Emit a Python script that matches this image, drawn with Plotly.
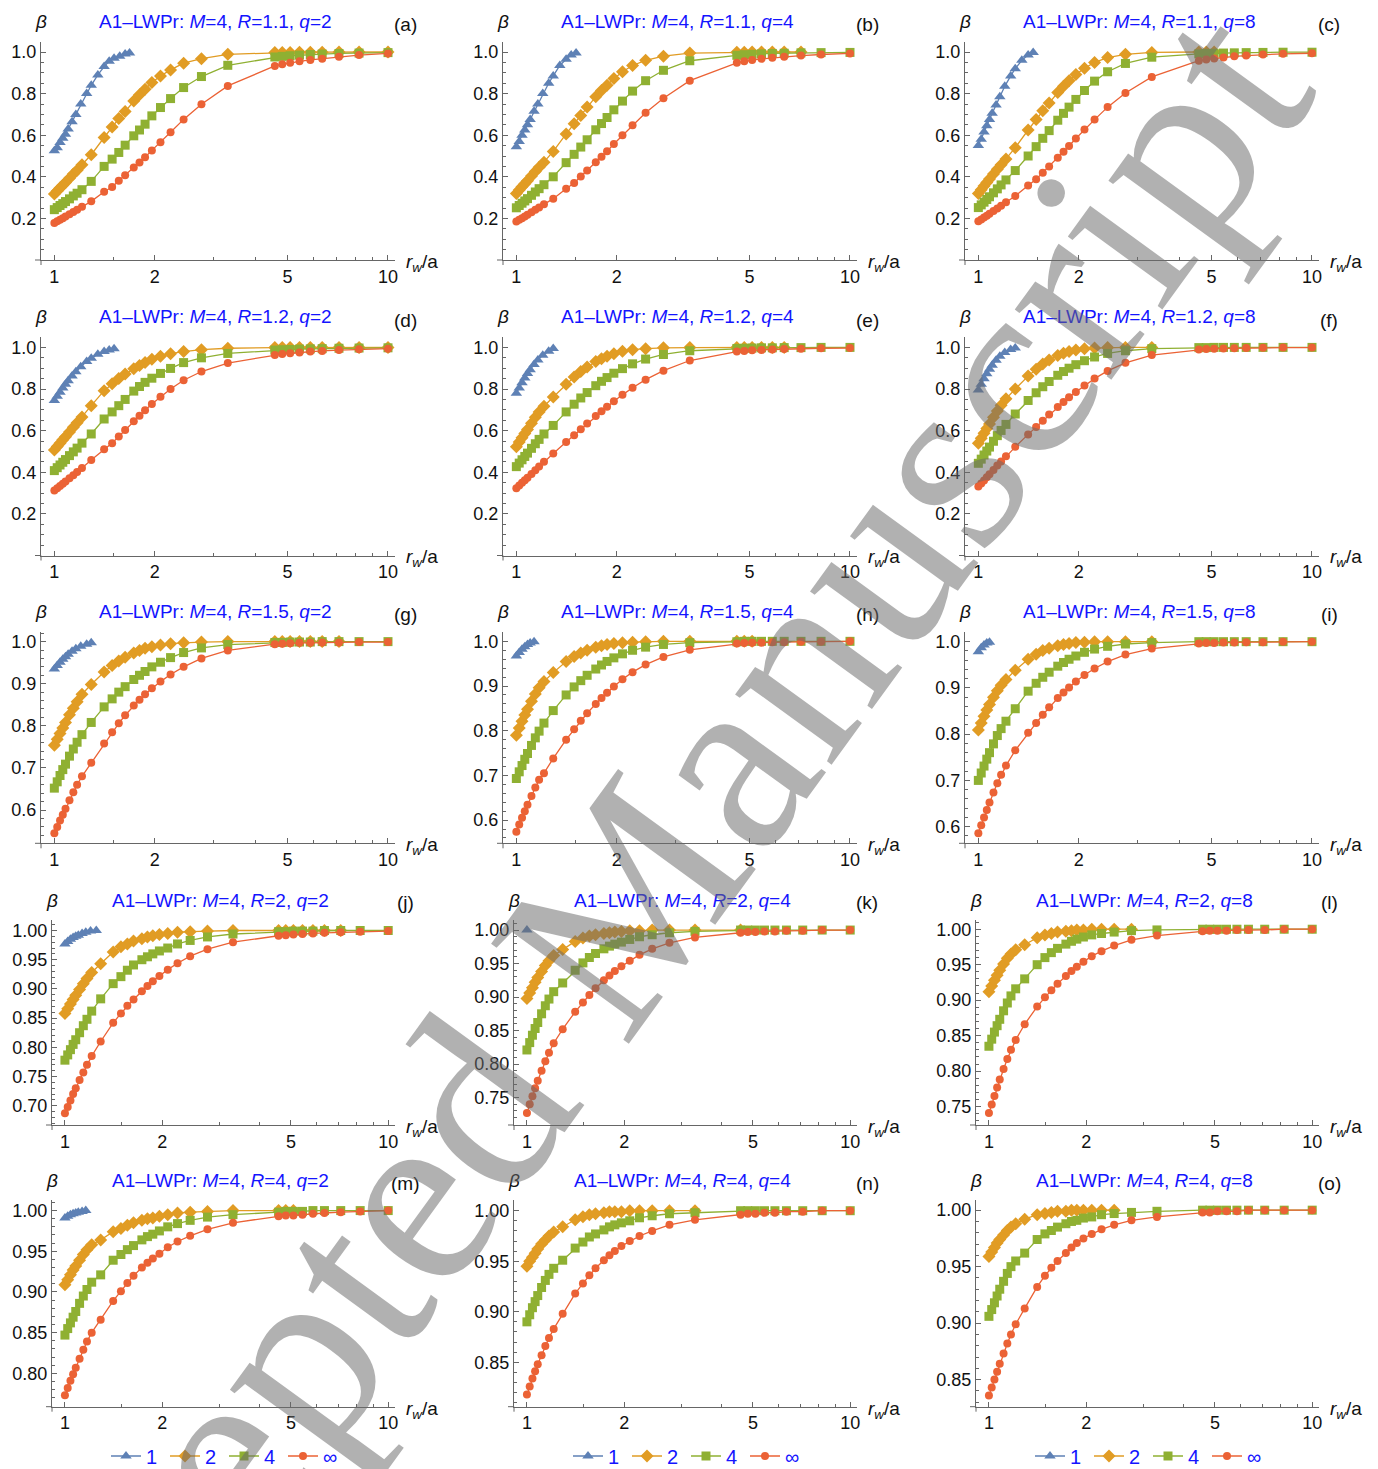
import plotly.graph_objects as go

# ---------------- data ----------------
X_GRID = [1.00, 1.02, 1.04, 1.06, 1.08, 1.11, 1.14, 1.17, 1.21, 1.29, 1.41, 1.49, 1.56, 1.63, 1.73,
          1.80, 1.87, 1.96, 2.08, 2.23, 2.44, 2.76, 3.31, 4.58, 4.82, 5.09, 5.43, 5.85, 6.35, 7.13, 8.19, 10.0]
X_GRID_1 = [1.00, 1.02, 1.04, 1.06, 1.08, 1.10, 1.13, 1.16, 1.20, 1.25, 1.29, 1.35, 1.41, 1.46, 1.51, 1.57, 1.63, 1.68]

SERIES_NAMES = ["1", "2", "4", "∞"]
R_VALUES = ["1.1", "1.2", "1.5", "2", "4"]
Q_VALUES = ["2", "4", "8"]
PANEL_LABELS = ["(a)", "(b)", "(c)", "(d)", "(e)", "(f)", "(g)", "(h)", "(i)",
                "(j)", "(k)", "(l)", "(m)", "(n)", "(o)"]
X_TICKS = [1, 2, 5, 10]

# (a) R=1.1 q=2
A_1 = [0.525, 0.54, 0.565, 0.585, 0.605, 0.63, 0.665, 0.70, 0.75, 0.80, 0.84, 0.89, 0.93, 0.955, 0.97, 0.98, 0.99, 0.995]
A_2 = [0.317, 0.332, 0.346, 0.359, 0.373, 0.393, 0.414, 0.432, 0.458, 0.506, 0.589, 0.640, 0.680, 0.714, 0.765, 0.795, 0.821, 0.853, 0.885, 0.914, 0.946, 0.968, 0.989, 0.997, 0.998, 0.998, 0.999, 0.999, 0.999, 1.0, 1.0, 1.0]
A_4 = [0.242, 0.252, 0.262, 0.271, 0.281, 0.294, 0.308, 0.321, 0.338, 0.378, 0.450, 0.485, 0.517, 0.552, 0.597, 0.625, 0.653, 0.693, 0.733, 0.776, 0.829, 0.882, 0.936, 0.976, 0.979, 0.982, 0.985, 0.988, 0.990, 0.993, 0.995, 0.997]
A_INF = [0.178, 0.186, 0.194, 0.201, 0.209, 0.220, 0.231, 0.242, 0.256, 0.282, 0.328, 0.351, 0.381, 0.408, 0.445, 0.469, 0.494, 0.527, 0.566, 0.614, 0.676, 0.749, 0.837, 0.933, 0.941, 0.948, 0.955, 0.962, 0.968, 0.977, 0.985, 0.993]
# (b) R=1.1 q=4
B_1 = [0.545, 0.57, 0.60, 0.625, 0.65, 0.675, 0.715, 0.75, 0.80, 0.85, 0.885, 0.935, 0.965, 0.985, 0.995]
B_2 = [0.320, 0.336, 0.352, 0.366, 0.381, 0.404, 0.425, 0.446, 0.470, 0.522, 0.606, 0.655, 0.695, 0.735, 0.785, 0.815, 0.840, 0.872, 0.905, 0.935, 0.960, 0.980, 0.995, 0.999, 0.999, 1.0, 1.0, 1.0, 1.0, 1.0]
B_4 = [0.251, 0.262, 0.273, 0.284, 0.295, 0.311, 0.327, 0.343, 0.362, 0.400, 0.468, 0.508, 0.543, 0.578, 0.626, 0.656, 0.685, 0.722, 0.764, 0.812, 0.862, 0.912, 0.958, 0.984, 0.987, 0.989, 0.991, 0.993, 0.994, 0.996, 0.997, 0.998]
B_INF = [0.185, 0.193, 0.201, 0.209, 0.217, 0.229, 0.241, 0.253, 0.268, 0.295, 0.343, 0.370, 0.401, 0.430, 0.470, 0.496, 0.523, 0.558, 0.600, 0.648, 0.708, 0.778, 0.862, 0.948, 0.955, 0.961, 0.967, 0.972, 0.977, 0.983, 0.988, 0.993]
# (c) R=1.1 q=8
C_1 = [0.55, 0.58, 0.615, 0.645, 0.675, 0.705, 0.745, 0.785, 0.835, 0.885, 0.92, 0.96, 0.985, 0.998]
C_2 = [0.320, 0.338, 0.356, 0.373, 0.390, 0.413, 0.436, 0.458, 0.486, 0.540, 0.625, 0.675, 0.718, 0.755, 0.805, 0.835, 0.862, 0.892, 0.922, 0.950, 0.973, 0.989, 0.998, 1.0, 1.0, 1.0]
C_4 = [0.252, 0.265, 0.278, 0.291, 0.304, 0.323, 0.342, 0.361, 0.385, 0.430, 0.500, 0.545, 0.585, 0.622, 0.672, 0.705, 0.735, 0.772, 0.815, 0.860, 0.905, 0.945, 0.975, 0.991, 0.993, 0.994, 0.995, 0.996, 0.997, 0.998, 0.999, 0.999]
C_INF = [0.186, 0.195, 0.204, 0.213, 0.222, 0.235, 0.248, 0.261, 0.278, 0.308, 0.358, 0.388, 0.420, 0.450, 0.492, 0.520, 0.548, 0.584, 0.627, 0.675, 0.735, 0.803, 0.880, 0.958, 0.964, 0.969, 0.974, 0.979, 0.983, 0.988, 0.991, 0.994]
# (d) R=1.2 q=2
D_1 = [0.745, 0.765, 0.785, 0.805, 0.823, 0.840, 0.862, 0.883, 0.907, 0.932, 0.948, 0.967, 0.980, 0.988, 0.994]
D_2 = [0.507, 0.524, 0.540, 0.556, 0.571, 0.594, 0.616, 0.638, 0.665, 0.720, 0.792, 0.825, 0.850, 0.872, 0.898, 0.913, 0.928, 0.943, 0.958, 0.970, 0.980, 0.989, 0.996, 0.999, 0.999, 1.0, 1.0, 1.0, 1.0, 1.0, 1.0, 1.0]
D_4 = [0.408, 0.422, 0.435, 0.448, 0.461, 0.480, 0.498, 0.516, 0.540, 0.584, 0.656, 0.690, 0.720, 0.750, 0.790, 0.812, 0.832, 0.852, 0.875, 0.899, 0.927, 0.950, 0.971, 0.987, 0.989, 0.990, 0.992, 0.993, 0.994, 0.996, 0.997, 0.998]
D_INF = [0.312, 0.323, 0.334, 0.345, 0.356, 0.371, 0.386, 0.401, 0.420, 0.459, 0.510, 0.540, 0.572, 0.603, 0.645, 0.672, 0.698, 0.728, 0.763, 0.800, 0.842, 0.884, 0.925, 0.964, 0.968, 0.972, 0.976, 0.980, 0.983, 0.987, 0.991, 0.994]
# (e) R=1.2 q=4
E_1 = [0.780, 0.805, 0.830, 0.853, 0.874, 0.893, 0.918, 0.940, 0.962, 0.982, 0.995]
E_2 = [0.523, 0.545, 0.566, 0.586, 0.606, 0.636, 0.664, 0.690, 0.717, 0.762, 0.823, 0.858, 0.884, 0.906, 0.932, 0.946, 0.958, 0.970, 0.981, 0.989, 0.994, 0.998, 0.999, 1.0, 1.0, 1.0, 1.0, 1.0, 1.0]
E_4 = [0.427, 0.444, 0.460, 0.476, 0.492, 0.515, 0.537, 0.558, 0.584, 0.625, 0.690, 0.727, 0.757, 0.783, 0.816, 0.837, 0.855, 0.876, 0.898, 0.921, 0.944, 0.966, 0.984, 0.995, 0.996, 0.997, 0.998, 0.998, 0.999, 0.999, 1.0, 1.0]
E_INF = [0.323, 0.336, 0.349, 0.362, 0.374, 0.392, 0.410, 0.428, 0.450, 0.490, 0.545, 0.578, 0.607, 0.634, 0.670, 0.693, 0.715, 0.741, 0.772, 0.806, 0.845, 0.888, 0.937, 0.980, 0.983, 0.986, 0.988, 0.990, 0.992, 0.994, 0.996, 0.997]
# (f) R=1.2 q=8
F_1 = [0.795, 0.823, 0.849, 0.873, 0.895, 0.914, 0.938, 0.958, 0.976, 0.990, 0.997]
F_2 = [0.539, 0.563, 0.587, 0.610, 0.632, 0.664, 0.694, 0.722, 0.753, 0.800, 0.862, 0.895, 0.920, 0.940, 0.961, 0.972, 0.980, 0.988, 0.994, 0.997, 0.999, 1.0, 1.0]
F_4 = [0.443, 0.463, 0.483, 0.502, 0.521, 0.549, 0.576, 0.601, 0.630, 0.680, 0.745, 0.782, 0.811, 0.836, 0.866, 0.884, 0.900, 0.917, 0.936, 0.954, 0.971, 0.984, 0.994, 0.999, 0.999, 1.0, 1.0, 1.0, 1.0, 1.0, 1.0, 1.0]
F_INF = [0.331, 0.346, 0.361, 0.376, 0.390, 0.411, 0.432, 0.452, 0.477, 0.522, 0.582, 0.617, 0.648, 0.677, 0.714, 0.738, 0.760, 0.786, 0.817, 0.850, 0.887, 0.926, 0.963, 0.990, 0.992, 0.994, 0.995, 0.996, 0.997, 0.998, 0.999, 0.999]
# (g) R=1.5 q=2
G_1 = [0.935, 0.943, 0.951, 0.958, 0.964, 0.970, 0.977, 0.983, 0.989, 0.994, 0.997]
G_2 = [0.754, 0.768, 0.782, 0.795, 0.808, 0.826, 0.842, 0.857, 0.875, 0.898, 0.928, 0.943, 0.954, 0.963, 0.973, 0.979, 0.984, 0.988, 0.992, 0.995, 0.997, 0.999, 1.0, 1.0, 1.0, 1.0, 1.0, 1.0, 1.0, 1.0]
G_4 = [0.652, 0.667, 0.682, 0.696, 0.709, 0.728, 0.745, 0.761, 0.779, 0.808, 0.845, 0.864, 0.880, 0.893, 0.910, 0.920, 0.929, 0.940, 0.951, 0.962, 0.974, 0.985, 0.993, 0.998, 0.998, 0.999, 0.999, 0.999, 1.0, 1.0, 1.0, 1.0]
G_INF = [0.545, 0.560, 0.575, 0.589, 0.603, 0.623, 0.642, 0.660, 0.680, 0.712, 0.758, 0.785, 0.806, 0.825, 0.848, 0.862, 0.875, 0.889, 0.905, 0.922, 0.940, 0.960, 0.979, 0.994, 0.995, 0.996, 0.997, 0.997, 0.998, 0.998, 0.999, 0.999]
# (h) R=1.5 q=4
H_1 = [0.967, 0.975, 0.982, 0.988, 0.993, 0.996, 0.999]
H_2 = [0.790, 0.806, 0.821, 0.835, 0.848, 0.866, 0.882, 0.896, 0.910, 0.930, 0.955, 0.966, 0.974, 0.980, 0.987, 0.990, 0.993, 0.995, 0.997, 0.998, 0.999, 1.0, 1.0, 1.0, 1.0, 1.0]
H_4 = [0.693, 0.708, 0.722, 0.736, 0.749, 0.767, 0.784, 0.799, 0.817, 0.845, 0.880, 0.898, 0.912, 0.924, 0.938, 0.947, 0.955, 0.963, 0.972, 0.980, 0.987, 0.993, 0.997, 0.999, 1.0, 1.0, 1.0, 1.0, 1.0, 1.0, 1.0, 1.0]
H_INF = [0.574, 0.590, 0.605, 0.620, 0.634, 0.654, 0.673, 0.690, 0.705, 0.738, 0.780, 0.803, 0.822, 0.839, 0.860, 0.873, 0.885, 0.899, 0.915, 0.931, 0.948, 0.965, 0.981, 0.995, 0.996, 0.997, 0.997, 0.998, 0.998, 0.999, 0.999, 1.0]
# (i) R=1.5 q=8
I_1 = [0.978, 0.987, 0.993, 0.997, 0.999]
I_2 = [0.809, 0.824, 0.839, 0.852, 0.864, 0.880, 0.894, 0.906, 0.918, 0.938, 0.962, 0.973, 0.981, 0.986, 0.991, 0.994, 0.996, 0.998, 0.999, 1.0, 1.0, 1.0, 1.0]
I_4 = [0.700, 0.716, 0.731, 0.746, 0.760, 0.779, 0.797, 0.812, 0.828, 0.855, 0.893, 0.910, 0.923, 0.934, 0.947, 0.955, 0.962, 0.969, 0.977, 0.984, 0.990, 0.995, 0.998, 1.0, 1.0, 1.0, 1.0, 1.0, 1.0, 1.0, 1.0, 1.0]
I_INF = [0.586, 0.603, 0.620, 0.636, 0.652, 0.674, 0.694, 0.712, 0.732, 0.765, 0.803, 0.824, 0.842, 0.858, 0.878, 0.890, 0.901, 0.914, 0.928, 0.942, 0.957, 0.972, 0.985, 0.996, 0.997, 0.997, 0.998, 0.998, 0.999, 0.999, 1.0, 1.0]
# (j) R=2 q=2
J_1 = [0.977, 0.981, 0.985, 0.988, 0.990, 0.992, 0.995, 0.997, 0.999, 1.0]
J_2 = [0.858, 0.866, 0.874, 0.882, 0.889, 0.899, 0.909, 0.918, 0.928, 0.943, 0.963, 0.972, 0.977, 0.982, 0.986, 0.989, 0.991, 0.993, 0.995, 0.997, 0.998, 0.999, 1.0, 1.0, 1.0, 1.0, 1.0, 1.0, 1.0, 1.0]
J_4 = [0.778, 0.787, 0.796, 0.805, 0.813, 0.825, 0.837, 0.848, 0.862, 0.883, 0.909, 0.921, 0.932, 0.941, 0.950, 0.955, 0.960, 0.965, 0.970, 0.977, 0.983, 0.989, 0.994, 0.998, 0.998, 0.999, 0.999, 0.999, 1.0, 1.0, 1.0, 1.0]
J_INF = [0.687, 0.698, 0.709, 0.720, 0.730, 0.744, 0.757, 0.770, 0.785, 0.810, 0.842, 0.858, 0.871, 0.882, 0.896, 0.905, 0.913, 0.922, 0.933, 0.944, 0.956, 0.968, 0.980, 0.991, 0.992, 0.993, 0.994, 0.995, 0.996, 0.997, 0.998, 0.999]
# (k) R=2 q=4
K_1 = [1.0]
K_2 = [0.898, 0.906, 0.914, 0.922, 0.929, 0.938, 0.947, 0.954, 0.962, 0.971, 0.983, 0.988, 0.991, 0.993, 0.995, 0.996, 0.997, 0.998, 0.999, 0.999, 1.0, 1.0, 1.0, 1.0]
K_4 = [0.821, 0.832, 0.843, 0.853, 0.862, 0.875, 0.887, 0.897, 0.908, 0.921, 0.940, 0.951, 0.959, 0.965, 0.972, 0.976, 0.979, 0.982, 0.986, 0.990, 0.993, 0.996, 0.998, 1.0, 1.0, 1.0, 1.0, 1.0, 1.0, 1.0, 1.0, 1.0]
K_INF = [0.727, 0.740, 0.752, 0.764, 0.775, 0.790, 0.804, 0.817, 0.831, 0.852, 0.878, 0.892, 0.903, 0.913, 0.925, 0.932, 0.939, 0.946, 0.954, 0.963, 0.972, 0.981, 0.989, 0.996, 0.997, 0.997, 0.998, 0.998, 0.999, 0.999, 1.0, 1.0]
# (l) R=2 q=8
L_1 = []
L_2 = [0.912, 0.920, 0.928, 0.935, 0.942, 0.951, 0.959, 0.965, 0.971, 0.978, 0.988, 0.992, 0.994, 0.996, 0.997, 0.998, 0.999, 0.999, 1.0, 1.0, 1.0, 1.0]
L_4 = [0.835, 0.845, 0.855, 0.864, 0.873, 0.885, 0.896, 0.906, 0.916, 0.930, 0.950, 0.960, 0.967, 0.973, 0.979, 0.983, 0.986, 0.989, 0.992, 0.994, 0.996, 0.998, 0.999, 1.0, 1.0, 1.0, 1.0, 1.0, 1.0, 1.0, 1.0, 1.0]
L_INF = [0.741, 0.753, 0.765, 0.777, 0.788, 0.803, 0.817, 0.830, 0.844, 0.866, 0.891, 0.904, 0.914, 0.923, 0.934, 0.941, 0.947, 0.954, 0.962, 0.969, 0.977, 0.985, 0.991, 0.997, 0.998, 0.998, 0.998, 0.999, 0.999, 0.999, 1.0, 1.0]
# (m) R=4 q=2
M_1 = [0.991, 0.993, 0.995, 0.996, 0.997, 0.998, 0.999, 1.0]
M_2 = [0.909, 0.915, 0.921, 0.927, 0.932, 0.939, 0.946, 0.952, 0.958, 0.964, 0.974, 0.978, 0.982, 0.985, 0.988, 0.990, 0.991, 0.993, 0.995, 0.997, 0.998, 0.999, 1.0, 1.0, 1.0, 1.0]
M_4 = [0.847, 0.855, 0.862, 0.869, 0.876, 0.886, 0.895, 0.903, 0.912, 0.921, 0.939, 0.946, 0.952, 0.957, 0.964, 0.968, 0.971, 0.975, 0.980, 0.984, 0.988, 0.992, 0.995, 0.998, 0.999, 0.999, 0.999, 1.0, 1.0, 1.0, 1.0, 1.0]
M_INF = [0.773, 0.782, 0.791, 0.799, 0.807, 0.818, 0.829, 0.839, 0.850, 0.866, 0.889, 0.901, 0.911, 0.920, 0.930, 0.936, 0.941, 0.947, 0.955, 0.962, 0.969, 0.977, 0.985, 0.993, 0.994, 0.994, 0.995, 0.996, 0.997, 0.998, 0.999, 1.0]
# (n) R=4 q=4
N_1 = []
N_2 = [0.945, 0.950, 0.954, 0.958, 0.962, 0.967, 0.971, 0.975, 0.979, 0.984, 0.991, 0.994, 0.996, 0.997, 0.998, 0.999, 0.999, 0.999, 1.0, 1.0, 1.0, 1.0, 1.0]
N_4 = [0.890, 0.897, 0.904, 0.910, 0.916, 0.924, 0.931, 0.937, 0.943, 0.951, 0.963, 0.969, 0.974, 0.977, 0.981, 0.984, 0.986, 0.988, 0.990, 0.993, 0.995, 0.997, 0.998, 1.0, 1.0, 1.0, 1.0, 1.0, 1.0, 1.0, 1.0, 1.0]
N_INF = [0.818, 0.826, 0.834, 0.841, 0.848, 0.857, 0.866, 0.874, 0.883, 0.898, 0.918, 0.928, 0.936, 0.943, 0.951, 0.956, 0.960, 0.965, 0.970, 0.975, 0.980, 0.986, 0.991, 0.996, 0.997, 0.997, 0.998, 0.998, 0.999, 0.999, 1.0, 1.0]
# (o) R=4 q=8
O_1 = []
O_2 = [0.959, 0.963, 0.967, 0.971, 0.974, 0.978, 0.982, 0.985, 0.988, 0.992, 0.996, 0.997, 0.998, 0.999, 0.999, 1.0, 1.0, 1.0, 1.0, 1.0, 1.0]
O_4 = [0.906, 0.912, 0.918, 0.924, 0.930, 0.937, 0.944, 0.950, 0.955, 0.962, 0.974, 0.979, 0.982, 0.985, 0.988, 0.990, 0.991, 0.993, 0.994, 0.996, 0.997, 0.998, 0.999, 1.0, 1.0, 1.0, 1.0, 1.0, 1.0, 1.0, 1.0, 1.0]
O_INF = [0.836, 0.843, 0.850, 0.857, 0.864, 0.873, 0.882, 0.890, 0.899, 0.913, 0.932, 0.942, 0.949, 0.955, 0.962, 0.967, 0.971, 0.975, 0.979, 0.983, 0.987, 0.991, 0.994, 0.998, 0.998, 0.999, 0.999, 0.999, 1.0, 1.0, 1.0, 1.0]

PANEL_DATA = [
    (A_1, A_2, A_4, A_INF), (B_1, B_2, B_4, B_INF), (C_1, C_2, C_4, C_INF),
    (D_1, D_2, D_4, D_INF), (E_1, E_2, E_4, E_INF), (F_1, F_2, F_4, F_INF),
    (G_1, G_2, G_4, G_INF), (H_1, H_2, H_4, H_INF), (I_1, I_2, I_4, I_INF),
    (J_1, J_2, J_4, J_INF), (K_1, K_2, K_4, K_INF), (L_1, L_2, L_4, L_INF),
    (M_1, M_2, M_4, M_INF), (N_1, N_2, N_4, N_INF), (O_1, O_2, O_4, O_INF),
]

# ---------------- styling / layout ----------------
# the page body has an 8px margin: build the figure so that it ends at the window edge
OFF = 8
WIN_W, WIN_H = 1378, 1469
W, H = WIN_W - OFF, WIN_H - OFF
COLORS = ["#5E81B5", "#E19C24", "#8FB032", "#EB6235"]
SYMBOLS = ["triangle-up", "diamond", "square", "circle"]
SIZES = [10, 10, 9, 8]
AXIS_COLOR = "#666666"
FONT = "Liberation Sans, Arial, sans-serif"
TITLE_BLUE = "#1414ff"
TICK_SIZE = 18
TEXT_SIZE = 19

ROW_TOP = [41.6, 337.0, 631.5, 920.0, 1200.0]
ROW_BOT = [260.0, 555.5, 843.3, 1125.0, 1406.7]
Y_RANGES = [
    [(0, 1.05)] * 3,
    [(0, 1.05)] * 3,
    [(0.521, 1.024), (0.548, 1.022), (0.564, 1.022)],
    [(0.667, 1.018), (0.709, 1.015), (0.724, 1.013)],
    [(0.759, 1.013), (0.806, 1.0106), (0.826, 1.009)],
]
Y_STEP = [(0.2, 0.05, 1), (0.2, 0.05, 1), (0.1, 0.02, 1), (0.05, 0.01, 2), (0.05, 0.01, 2)]


def fx(px):
    return (px - OFF) / W


def fy(py):
    return 1 - (py - OFF) / H


fig = go.Figure()
layout = dict(width=W, height=H, margin=dict(l=0, r=0, t=0, b=0, autoexpand=False),
              paper_bgcolor="white", plot_bgcolor="rgba(0,0,0,0)",
              font=dict(family=FONT, size=TICK_SIZE, color="#111"),
              showlegend=True)
annotations = []
shapes = []

# legends: column -> (series -> panel whose trace carries the legend entry)
legend_src = {0: {0: 12, 1: 12, 2: 12, 3: 12},
              1: {0: 10, 1: 13, 2: 13, 3: 13},
              2: {0: 8, 1: 14, 2: 14, 3: 14}}
legend_names = ["legend", "legend2", "legend3"]

for p in range(15):
    r, c = divmod(p, 3)
    n = p + 1
    xa = "x" if n == 1 else f"x{n}"
    ya = "y" if n == 1 else f"y{n}"
    left = (41 if r < 3 else 52) + 462 * c
    right = 395 + 462 * c
    top, bot = ROW_TOP[r], ROW_BOT[r]
    y0, y1 = Y_RANGES[r][c]
    major, minor, dec = Y_STEP[r]

    k0 = int(round(1.0 / major))
    yt = [round(1.0 - i * major, 4) for i in range(k0 + 1) if 1.0 - i * major > y0 + 1e-6]
    yt = [v for v in yt if v > 0.0001]
    ym = []
    v = 1.0 + minor
    while v <= y1 + 1e-9:
        ym.append(round(v, 4))
        v += minor
    v = 1.0
    while v > y0:
        ym.append(round(v, 4))
        v -= minor

    layout[("xaxis" if n == 1 else f"xaxis{n}")] = dict(
        type="log", range=[-0.04, 1.021], domain=[fx(left), fx(right)], anchor=ya,
        showline=True, linecolor=AXIS_COLOR, linewidth=1, showgrid=False, zeroline=False,
        ticks="inside", ticklen=5, tickwidth=1, tickcolor=AXIS_COLOR,
        tickmode="array", tickvals=X_TICKS, ticktext=[str(t) for t in X_TICKS],
        tickfont=dict(family=FONT, size=TICK_SIZE, color="#111"), ticklabelstandoff=0,
        minor=dict(tickmode="array", tickvals=[1.5, 3, 4, 6, 7, 8, 9], ticks="inside",
                   ticklen=3, tickcolor=AXIS_COLOR, showgrid=False),
    )
    layout[("yaxis" if n == 1 else f"yaxis{n}")] = dict(
        range=[y0, y1], domain=[fy(bot), fy(top)], anchor=xa,
        showline=True, linecolor=AXIS_COLOR, linewidth=1, showgrid=False, zeroline=False,
        ticks="inside", ticklen=5, tickwidth=1, tickcolor=AXIS_COLOR,
        tickmode="array", tickvals=yt, ticktext=[f"{t:.{dec}f}" for t in yt],
        tickfont=dict(family=FONT, size=TICK_SIZE, color="#111"),
        minor=dict(tickmode="array", tickvals=ym, ticks="inside", ticklen=3,
                   tickcolor=AXIS_COLOR, showgrid=False),
    )

    # axis overhangs (axes cross like Mathematica Axes)
    shapes.append(dict(type="line", xref="paper", yref="paper", x0=fx(left - 6), x1=fx(left),
                       y0=fy(bot), y1=fy(bot), line=dict(color=AXIS_COLOR, width=1)))
    shapes.append(dict(type="line", xref="paper", yref="paper", x0=fx(left), x1=fx(left),
                       y0=fy(bot), y1=fy(bot + 5), line=dict(color=AXIS_COLOR, width=1)))

    annotations.append(dict(
        xref="paper", yref="paper", x=fx((left - 6 + right) / 2), y=fy(top - 20),
        xanchor="center", yanchor="middle", showarrow=False,
        text=f"A1–LWPr: <i>M</i>=4, <i>R</i>={R_VALUES[r]}, <i>q</i>={Q_VALUES[c]}",
        font=dict(family=FONT, size=TEXT_SIZE, color=TITLE_BLUE)))
    annotations.append(dict(
        xref="paper", yref="paper", x=fx(right + 10), y=fy(top - 17),
        xanchor="center", yanchor="middle", showarrow=False, text=PANEL_LABELS[p],
        font=dict(family=FONT, size=TEXT_SIZE, color="#111")))
    annotations.append(dict(
        xref="paper", yref="paper", x=fx(left), y=fy(top - 20),
        xanchor="center", yanchor="middle", showarrow=False, text="<i>β</i>",
        font=dict(family=FONT, size=TEXT_SIZE, color="#111")))
    annotations.append(dict(
        xref="paper", yref="paper", x=fx(right + 9), y=fy(bot + 3),
        xanchor="left", yanchor="middle", showarrow=False,
        text="<i>r</i><sub><i>w</i></sub>/a",
        font=dict(family=FONT, size=TEXT_SIZE, color="#111")))

    for s, ys in enumerate(PANEL_DATA[p]):
        if not ys:
            continue
        xs = (X_GRID_1 if s == 0 else X_GRID)[:len(ys)]
        leg = None
        for col, m in legend_src.items():
            if m[s] == p:
                leg = legend_names[col]
        fig.add_trace(go.Scatter(
            x=xs, y=ys, xaxis=xa, yaxis=ya, mode="lines+markers", name=SERIES_NAMES[s],
            line=dict(color=COLORS[s], width=1.3),
            marker=dict(symbol=SYMBOLS[s], size=SIZES[s], color=COLORS[s], line=dict(width=0)),
            showlegend=leg is not None, legend=leg if leg else "legend",
            cliponaxis=False,
        ))

legend_x = [106, 568, 1030]
for i, name in enumerate(legend_names):
    layout[name] = dict(
        orientation="h", x=fx(legend_x[i]), y=fy(1456), xanchor="left", yanchor="middle",
        font=dict(family=FONT, size=20, color=TITLE_BLUE), bgcolor="rgba(0,0,0,0)",
        itemsizing="trace", entrywidth=14, entrywidthmode="pixels", tracegroupgap=0,
    )

# watermark
annotations.append(dict(
    xref="paper", yref="paper", x=fx(594), y=fy(942), xanchor="center", yanchor="middle",
    showarrow=False, text="Accepted Manuscript", textangle=-54,
    font=dict(family="Liberation Serif, Times New Roman, serif", size=260,
              color="rgba(105,105,105,0.52)")))

layout["annotations"] = annotations
layout["shapes"] = shapes
fig.update_layout(**layout)
fig.write_html("out.html")
